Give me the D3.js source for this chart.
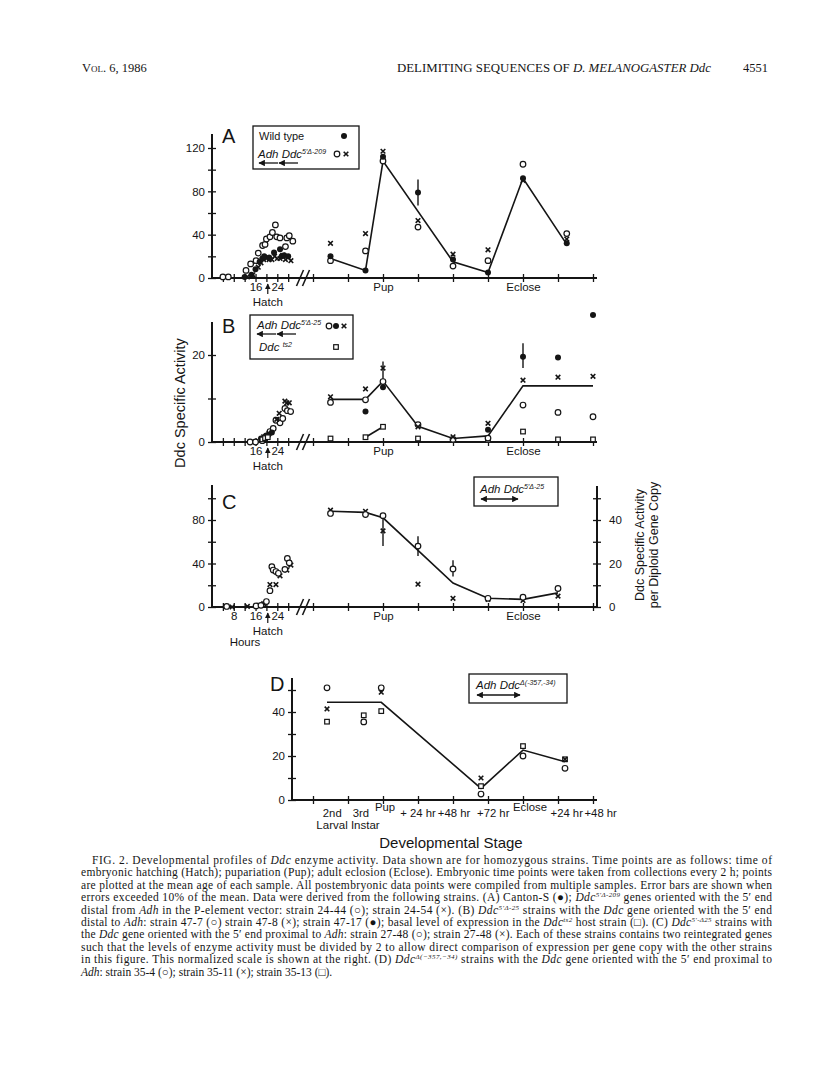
<!DOCTYPE html>
<html>
<head>
<meta charset="utf-8">
<script src="https://cdn.jsdelivr.net/npm/d3@7"></script>
<style>
body { margin: 0; background: #fff; }
svg { display: block; }
</style>
</head>
<body>
<script>
// ---------- data ----------

// post-embryonic tick positions are stage indices 0..8 (Pup = 2, Eclose = 6)
var D_TICK_LABELS = ["2nd", "3rd", "Pup", "+ 24 hr", "+48 hr", "+72 hr", "Eclose", "+24 hr", "+48 hr"];
var D_TICK_LABEL_POS = [0.55, 1.37, 2.06, 3.0, 4.03, 5.15, 6.2, 7.25, 8.22];

// Panel A  (wild type = dot, 24-44 = circle, 24-54 = cross)
var A_WT_HRS  = [12, 14.5, 16, 17.5, 18.5, 19.2, 21, 22.8, 25, 25.6, 26.5, 28];
var A_WT_EMB  = [1, 3, 8, 15, 18, 20, 19, 23.5, 26.5, 20, 21, 20];
var A_O_HRS   = [4, 6, 12.5, 14.2, 16.2, 17, 18.6, 19.5, 20, 21.3, 22.2, 23.3, 23.8, 25, 27, 27.5, 28.4, 29.7];
var A_O_EMB   = [1, 1, 7, 13, 16, 23, 30, 31, 36, 38, 42, 49, 38, 37, 29, 37, 39, 34];
var A_X_HRS   = [13, 15, 17, 18, 19, 20, 21, 22, 23, 24, 25, 26, 27, 28, 29];
var A_X_EMB   = [1, 3, 10, 14, 17, 18, 17, 17, 20, 18, 18, 21, 17, 19, 16];
var A_POST_POS = [0.5, 1.5, 2, 3, 4, 5, 6, 7.25];
var A_WT_POST = [20, 7, 112, 79, 17, 5, 92, 32];
var A_O_POST  = [16, 25, 108, 47, 11, 16, 105, 41];
var A_X_POST  = [32, 41, 117, 53, 22, 26, 90, 36];
var A_LINE_POS = [0.5, 1.5, 2, 4, 5, 6, 7.25];
var A_LINE     = [18, 7, 108, 15, 5, 92, 31];
var A_ERR_POS = [3], A_ERR_LO = [67], A_ERR_HI = [91];

// Panel B  (47-7 circle, 47-8 cross, 47-17 dot, ts2 host square)
var B_O_HRS  = [14, 16, 18.5, 20, 21.3, 22.5, 23.5, 25, 26, 26.8, 27.7, 28.9];
var B_O_EMB  = [0, 0, 0.3, 1.4, 2.4, 3.1, 5, 4.4, 5.4, 7.7, 7.2, 7];
var B_X_HRS  = [19, 21, 23.8, 24.7, 26.8, 27.5, 28.4];
var B_X_EMB  = [1.2, 2, 5.2, 6.6, 9.4, 9, 9];
var B_D_HRS  = [18, 19.5, 20.7, 22];
var B_D_EMB  = [0.8, 1.2, 1.6, 2.2];
var B_S_HRS  = [18.5, 19.5, 20.5];
var B_S_EMB  = [0.6, 0.9, 1.1];
var B_POST_POS = [0.5, 1.5, 2, 3, 4, 5, 6, 7, 8];
var B_O_POST = [9.1, 9.7, 13.9, 4, 0.6, 0.9, 8.5, 6.8, 5.8];
var B_X_POST = [10.4, 12.2, 17, 3.5, 1.2, 4.3, 14.2, 14.9, 15.1];
var B_S_POST = [0.8, 1.1, 3.5, 0.8, 0.5, 0.5, 2.4, 0.6, 0.6];
var B_D_POS  = [1.5, 2, 5, 6, 7, 8];
var B_D_POST = [7, 12.6, 2.8, 19.6, 19.4, 29.2];
var B_LINE_POS = [0.5, 1.5, 2, 3, 4, 5, 6, 8];
var B_LINE     = [9.8, 9.8, 14, 3.6, 0.8, 1.4, 12.9, 12.9];
var B_SQ_LINE_POS = [1.5, 2];
var B_SQ_LINE     = [1.1, 3.5];
var B_ERR_POS = [2, 6], B_ERR_LO = [13.9, 17], B_ERR_HI = [18.5, 22.7];

// Panel C  (27-48 circle, 27-48 cross)
var C_O_HRS  = [5.4, 16.2, 18, 20, 21.3, 22, 22.5, 23.5, 24.4, 26.8, 27.7, 28.4];
var C_O_EMB  = [0.5, 1, 1.5, 5, 15, 37, 34, 32.6, 31, 34.6, 44.7, 40.6];
var C_X_HRS  = [7.4, 13, 17.5, 19, 21.3, 23.5, 25, 27.5, 29];
var C_X_EMB  = [0, 0.5, 1.5, 3, 20.6, 20.6, 28.7, 34, 38.6];
var C_POST_POS = [0.5, 1.5, 2, 3, 4, 5, 6, 7];
var C_O_POST = [86, 85, 84, 56, 35, 8, 9, 17];
var C_X_POST = [89, 88, 70, 21, 8, 7, 6, 10];
var C_LINE   = [88, 87, 82, 52, 22, 8, 7, 13];
var C_ERR_POS = [2, 3, 4], C_ERR_LO = [56, 47, 28], C_ERR_HI = [82, 65, 43];

// Panel D  (35-4 circle, 35-11 cross, 35-13 square)
var D_POS    = [0.4, 1.45, 1.95, 4.8, 6, 7.2];
var D_O      = [51, 35.5, 51, 2.7, 20, 14.4];
var D_X      = [41.4, 35.5, 49, 10, 20, 18.5];
var D_S      = [35.6, 38.5, 40.4, 6.3, 24.5, 18.5];
var D_LINE_POS = [0.4, 1.95, 4.8, 6, 7.2];
var D_LINE     = [44.4, 44.4, 5.3, 22.7, 17.4];

var CAPTION = [
  "FIG. 2. Developmental profiles of *Ddc* enzyme activity. Data shown are for homozygous strains. Time points are as follows: time of",
  "embryonic hatching (Hatch); pupariation (Pup); adult eclosion (Eclose). Embryonic time points were taken from collections every 2 h; points",
  "are plotted at the mean age of each sample. All postembryonic data points were compiled from multiple samples. Error bars are shown when",
  "errors exceeded 10% of the mean. Data were derived from the following strains. (A) Canton-S (\u25CF); *Ddc*^5\u2032\u0394-209^ genes oriented with the 5\u2032 end",
  "distal from *Adh* in the P-element vector: strain 24-44 (\u25CB); strain 24-54 (\u00D7). (B) *Ddc*^5\u2032\u0394-25^ strains with the *Ddc* gene oriented with the 5\u2032 end",
  "distal to *Adh*: strain 47-7 (\u25CB) strain 47-8 (\u00D7); strain 47-17 (\u25CF); basal level of expression in the *Ddc*^ts2^ host strain (\u25A1). (C) *Ddc*^5\u2032-\u039425^ strains with",
  "the *Ddc* gene oriented with the 5\u2032 end proximal to *Adh*: strain 27-48 (\u25CB); strain 27-48 (\u00D7). Each of these strains contains two reintegrated genes",
  "such that the levels of enzyme activity must be divided by 2 to allow direct comparison of expression per gene copy with the other strains",
  "in this figure. This normalized scale is shown at the right. (D) *Ddc*^\u0394(\u2212357,\u221234)^ strains with the *Ddc* gene oriented with the 5\u2032 end proximal to",
  "*Adh*: strain 35-4 (\u25CB); strain 35-11 (\u00D7); strain 35-13 (\u25A1)."
];

// ---------- drawing ----------
var ink = "#151515";
var sans = "'Liberation Sans', Arial, Helvetica, sans-serif";
var serif = "'Liberation Serif', 'Times New Roman', serif";

var svg = d3.select("body").append("svg")
    .attr("width", 816)
    .attr("height", 1074);
svg.append("rect").attr("width", 816).attr("height", 1074).attr("fill", "#fff");

var defs = svg.append("defs");
defs.append("marker")
    .attr("id", "ah")
    .attr("viewBox", "0 0 10 10")
    .attr("refX", 9).attr("refY", 5)
    .attr("markerWidth", 5).attr("markerHeight", 5)
    .attr("orient", "auto-start-reverse")
  .append("path")
    .attr("d", "M0,0L10,5L0,10Z")
    .attr("fill", ink);

// shared x scales: embryonic hours, then stage index after the break
var xEmb = d3.scaleLinear().domain([0, 34]).range([212, 304.5]);
var xPost = d3.scaleLinear().domain([0, 8]).range([313, 593]);

// rich text: *italic*, ^superscript^
function rich(t, str, size, sup) {
  sup = sup || size * 0.62;
  var shift = size * 0.34;
  var parts = str.split(/(\*[^*]+\*|\^[^^]+\^)/);
  var up = false;
  parts.forEach(function(p) {
    if (!p) return;
    var ts = t.append("tspan");
    if (p[0] == "*") {
      ts.attr("font-style", "italic").text(p.slice(1, -1));
      if (up) { ts.attr("dy", shift); up = false; }
    } else if (p[0] == "^") {
      ts.attr("font-style", "italic").attr("font-size", sup)
        .attr("dy", -shift).text(p.slice(1, -1));
      up = true;
    } else {
      ts.text(p);
      if (up) { ts.attr("dy", shift); up = false; }
    }
  });
  return t;
}

function styleAxis(g, kind) {
  g.attr("font-family", sans).attr("font-size", 11.5).attr("fill", ink);
  g.select(".domain").remove();
  g.selectAll(".tick line").attr("stroke", ink).attr("stroke-width", 1.3);
  g.selectAll(".tick text").attr("fill", ink);
  if (kind == "left") g.selectAll(".tick line").attr("x1", 4);
  if (kind == "right") g.selectAll(".tick line").attr("x1", -4);
  if (kind == "bottom") g.selectAll(".tick line").attr("y1", -4);
}

function mark(g, sym, x, y) {
  if (sym == "o") {
    g.append("circle").attr("cx", x).attr("cy", y).attr("r", 2.8)
      .attr("fill", "#fff").attr("stroke", ink).attr("stroke-width", 1.2);
  } else if (sym == "d") {
    g.append("circle").attr("cx", x).attr("cy", y).attr("r", 3)
      .attr("fill", ink);
  } else if (sym == "x") {
    g.append("path").attr("d", "M" + (x - 2.3) + "," + (y - 2.3) + "L" + (x + 2.3) + "," + (y + 2.3) +
        "M" + (x - 2.3) + "," + (y + 2.3) + "L" + (x + 2.3) + "," + (y - 2.3))
      .attr("stroke", ink).attr("stroke-width", 1.6);
  } else if (sym == "s") {
    g.append("rect").attr("x", x - 2.3).attr("y", y - 2.3).attr("width", 4.6).attr("height", 4.6)
      .attr("fill", "#fff").attr("stroke", ink).attr("stroke-width", 1.2);
  }
}

function plotPoints(g, sym, xs, ys, xs_scale, y) {
  xs.forEach(function(v, i) { mark(g, sym, xs_scale(v), y(ys[i])); });
}

function plotLine(g, xs, ys, y) {
  var line = d3.line()
      .x(function(d) { return xPost(d[0]); })
      .y(function(d) { return y(d[1]); });
  g.append("path")
      .attr("d", line(d3.zip(xs, ys)))
      .attr("fill", "none")
      .attr("stroke", ink)
      .attr("stroke-width", 1.6);
}

function plotErr(g, pos, lo, hi, y) {
  pos.forEach(function(p, i) {
    g.append("line")
      .attr("x1", xPost(p)).attr("x2", xPost(p))
      .attr("y1", y(lo[i])).attr("y2", y(hi[i]))
      .attr("stroke", ink).attr("stroke-width", 1.4);
  });
}

function txt(g, x, y, s, size, anchor) {
  return g.append("text").attr("x", x).attr("y", y)
      .attr("font-family", sans).attr("font-size", size)
      .attr("text-anchor", anchor || "start").attr("fill", ink).text(s);
}

// frame for panels A-C: y axis, broken time axis, hatch arrow
function frameABC(y, yTicks, yLabels, yTop, embLabels, hours) {
  var g = svg.append("g");
  var y0 = y(0);
  g.append("line").attr("x1", 212).attr("x2", 212).attr("y1", y0).attr("y2", yTop)
      .attr("stroke", ink).attr("stroke-width", 2);
  g.append("line").attr("x1", 212).attr("x2", 597).attr("y1", y0).attr("y2", y0)
      .attr("stroke", ink).attr("stroke-width", 2);

  var ya = g.append("g").attr("transform", "translate(212,0)")
      .call(d3.axisLeft(y).tickValues(yTicks).tickSize(4).tickPadding(3)
        .tickFormat(function(d) { return yLabels.indexOf(d) >= 0 ? d : ""; }));
  styleAxis(ya, "left");

  var xe = g.append("g").attr("transform", "translate(0," + y0 + ")")
      .call(d3.axisBottom(xEmb).tickValues([4, 8, 12, 16, 20, 24, 28]).tickSize(4).tickPadding(1)
        .tickFormat(function(d) { return embLabels.indexOf(d) >= 0 ? d : ""; }));
  styleAxis(xe, "bottom");

  var xp = g.append("g").attr("transform", "translate(0," + y0 + ")")
      .call(d3.axisBottom(xPost).tickValues(d3.range(0, 9)).tickSize(4).tickPadding(1)
        .tickFormat(function(d) { return d == 2 ? "Pup" : d == 6 ? "Eclose" : ""; }));
  styleAxis(xp, "bottom");

  // axis break
  [300, 306].forEach(function(bx) {
    g.append("line").attr("x1", bx - 3.5).attr("x2", bx + 3.5)
      .attr("y1", y0 + 8).attr("y2", y0 - 8)
      .attr("stroke", ink).attr("stroke-width", 1.6);
  });

  // hatch arrow
  var hx = xEmb(20.5);
  g.append("line").attr("x1", hx).attr("x2", hx).attr("y1", y0 + 16).attr("y2", y0 + 6)
      .attr("stroke", ink).attr("stroke-width", 1.2).attr("marker-end", "url(#ah)");
  txt(g, hx, y0 + 27.5, "Hatch", 11.5, "middle");
  if (hours) txt(g, 245, y0 + 39, "Hours", 11.5, "middle");
  return g;
}

function legendBox(x, y, w, h) {
  svg.append("rect").attr("x", x).attr("y", y).attr("width", w).attr("height", h)
      .attr("fill", "#fff").attr("stroke", ink).attr("stroke-width", 1.3);
}

function arrow(x1, x2, yy, both) {
  var l = svg.append("line").attr("x1", x1).attr("x2", x2).attr("y1", yy).attr("y2", yy)
      .attr("stroke", ink).attr("stroke-width", 1.3).attr("marker-end", "url(#ah)");
  if (both) l.attr("marker-start", "url(#ah)");
}

function legendLabel(x, y, str, size, sup) {
  var t = svg.append("text").attr("x", x).attr("y", y)
      .attr("font-family", sans).attr("font-size", size).attr("fill", ink);
  rich(t, str, size, sup);
}

// ---- header ----
svg.append("text").attr("x", 82).attr("y", 72).attr("font-family", serif).attr("font-size", 12.5)
    .attr("fill", ink).attr("font-variant", "small-caps").text("Vol. 6, 1986");
var hd = svg.append("text").attr("x", 397).attr("y", 72).attr("font-family", serif).attr("font-size", 12.5)
    .attr("fill", ink).attr("textLength", 314).attr("lengthAdjust", "spacingAndGlyphs");
rich(hd, "DELIMITING SEQUENCES OF *D. MELANOGASTER Ddc*", 12.5);
svg.append("text").attr("x", 768).attr("y", 72).attr("font-family", serif).attr("font-size", 12.5)
    .attr("fill", ink).attr("text-anchor", "end").text("4551");

// ---- panel A ----
var yA = d3.scaleLinear().domain([0, 120]).range([278, 148]);
var gA = frameABC(yA, d3.range(0, 121, 20), [0, 40, 80, 120], 134, [16, 24], false);
plotLine(gA, A_LINE_POS, A_LINE, yA);
plotErr(gA, A_ERR_POS, A_ERR_LO, A_ERR_HI, yA);
plotPoints(gA, "o", A_O_HRS, A_O_EMB, xEmb, yA);
plotPoints(gA, "x", A_X_HRS, A_X_EMB, xEmb, yA);
plotPoints(gA, "d", A_WT_HRS, A_WT_EMB, xEmb, yA);
plotPoints(gA, "o", A_POST_POS, A_O_POST, xPost, yA);
plotPoints(gA, "x", A_POST_POS, A_X_POST, xPost, yA);
plotPoints(gA, "d", A_POST_POS, A_WT_POST, xPost, yA);
txt(svg, 222, 143, "A", 20);
legendBox(253, 126, 106, 43);
txt(svg, 259, 140, "Wild type", 11);
mark(svg, "d", 344, 136);
legendLabel(258, 158, "*Adh Ddc*^5\u2032\u0394-209^", 11.5, 7);
mark(svg, "o", 337, 154);
mark(svg, "x", 346, 154);
arrow(278, 259, 163);
arrow(298, 279, 163);

// ---- panel B ----
var yB = d3.scaleLinear().domain([0, 20]).range([442, 355]);
var gB = frameABC(yB, [0, 10, 20], [0, 20], 322, [16, 24], false);
plotLine(gB, B_LINE_POS, B_LINE, yB);
plotLine(gB, B_SQ_LINE_POS, B_SQ_LINE, yB);
plotErr(gB, B_ERR_POS, B_ERR_LO, B_ERR_HI, yB);
plotPoints(gB, "o", B_O_HRS, B_O_EMB, xEmb, yB);
plotPoints(gB, "x", B_X_HRS, B_X_EMB, xEmb, yB);
plotPoints(gB, "d", B_D_HRS, B_D_EMB, xEmb, yB);
plotPoints(gB, "s", B_S_HRS, B_S_EMB, xEmb, yB);
plotPoints(gB, "s", B_POST_POS, B_S_POST, xPost, yB);
plotPoints(gB, "o", B_POST_POS, B_O_POST, xPost, yB);
plotPoints(gB, "x", B_POST_POS, B_X_POST, xPost, yB);
plotPoints(gB, "d", B_D_POS, B_D_POST, xPost, yB);
txt(svg, 222, 333, "B", 20);
legendBox(250, 315, 103, 44);
legendLabel(257, 329, "*Adh Ddc*^5\u2032\u0394-25^", 11.5, 7);
mark(svg, "o", 329, 326);
mark(svg, "d", 336, 326);
mark(svg, "x", 344, 326);
arrow(276, 257, 334);
arrow(296, 277, 334);
legendLabel(259, 351, "*Ddc* ^ts2^", 11.5, 7);
mark(svg, "s", 336, 347);

// y title shared by A-C
svg.append("text")
    .attr("transform", "translate(185,403) rotate(-90)")
    .attr("text-anchor", "middle")
    .attr("font-family", sans).attr("font-size", 14.5).attr("fill", ink)
    .text("Ddc Specific Activity");

// ---- panel C ----
var yC = d3.scaleLinear().domain([0, 80]).range([607, 520]);
var yCr = d3.scaleLinear().domain([0, 40]).range([607, 520]);
var gC = frameABC(yC, d3.range(0, 101, 20), [0, 40, 80], 485, [8, 16, 24], true);
gC.append("line").attr("x1", 597).attr("x2", 597).attr("y1", 607).attr("y2", 486)
    .attr("stroke", ink).attr("stroke-width", 2);
var yr = gC.append("g").attr("transform", "translate(597,0)")
    .call(d3.axisRight(yCr).tickValues(d3.range(0, 51, 10)).tickSize(4).tickPadding(8)
      .tickFormat(function(d) { return d % 20 == 0 ? d : ""; }));
styleAxis(yr, "right");
plotLine(gC, C_POST_POS, C_LINE, yC);
plotErr(gC, C_ERR_POS, C_ERR_LO, C_ERR_HI, yC);
plotPoints(gC, "x", C_X_HRS, C_X_EMB, xEmb, yC);
plotPoints(gC, "o", C_O_HRS, C_O_EMB, xEmb, yC);
plotPoints(gC, "x", C_POST_POS, C_X_POST, xPost, yC);
plotPoints(gC, "o", C_POST_POS, C_O_POST, xPost, yC);
txt(svg, 222, 509, "C", 20);
legendBox(474, 477, 84, 29);
legendLabel(480, 493, "*Adh Ddc*^5\u2032\u0394-25^", 11.5, 7);
arrow(481, 518, 499, true);
svg.append("text")
    .attr("transform", "translate(644,545) rotate(-90)")
    .attr("text-anchor", "middle")
    .attr("font-family", sans).attr("font-size", 12.5).attr("fill", ink)
    .text("Ddc Specific Activity");
svg.append("text")
    .attr("transform", "translate(658,545) rotate(-90)")
    .attr("text-anchor", "middle")
    .attr("font-family", sans).attr("font-size", 12.5).attr("fill", ink)
    .text("per Diploid Gene Copy");

// ---- panel D ----
var yD = d3.scaleLinear().domain([0, 40]).range([800, 712]);
var gD = svg.append("g");
gD.append("line").attr("x1", 292).attr("x2", 292).attr("y1", 800).attr("y2", 678)
    .attr("stroke", ink).attr("stroke-width", 2);
gD.append("line").attr("x1", 292).attr("x2", 597).attr("y1", 800).attr("y2", 800)
    .attr("stroke", ink).attr("stroke-width", 2);
var yd = gD.append("g").attr("transform", "translate(292,0)")
    .call(d3.axisLeft(yD).tickValues(d3.range(0, 51, 10)).tickSize(4).tickPadding(3)
      .tickFormat(function(d) { return d % 20 == 0 ? d : ""; }));
styleAxis(yd, "left");
var xd = gD.append("g").attr("transform", "translate(0,800)")
    .call(d3.axisBottom(xPost).tickValues(d3.range(0, 9)).tickSize(4).tickFormat(""));
styleAxis(xd, "bottom");
D_TICK_LABELS.forEach(function(s, i) {
  var raised = (s == "Pup" || s == "Eclose");
  txt(gD, xPost(D_TICK_LABEL_POS[i]), raised ? 811 : 817, s, 11.3, "middle");
});
txt(gD, 348, 829, "Larval Instar", 11.5, "middle");
txt(gD, 451, 848, "Developmental Stage", 15, "middle");
plotLine(gD, D_LINE_POS, D_LINE, yD);
plotPoints(gD, "s", D_POS, D_S, xPost, yD);
plotPoints(gD, "x", D_POS, D_X, xPost, yD);
plotPoints(gD, "o", D_POS, D_O, xPost, yD);
txt(svg, 270, 691, "D", 20);
legendBox(469, 674, 98, 29);
legendLabel(476, 689, "*Adh Ddc*^\u0394(-357,-34)^", 11.5, 7);
arrow(477, 520, 695, true);

// ---- caption ----
CAPTION.forEach(function(line, i) {
  var first = i == 0, last = i == CAPTION.length - 1;
  var x0 = first ? 92 : 81;
  var t = svg.append("text")
      .attr("x", x0).attr("y", 864 + i * 12.4)
      .attr("font-family", serif).attr("font-size", 11.5).attr("fill", ink);
  if (!last) t.attr("textLength", 772 - x0).attr("lengthAdjust", "spacing");
  rich(t, line, 11.5, 7);
});
</script>
</body>
</html>
